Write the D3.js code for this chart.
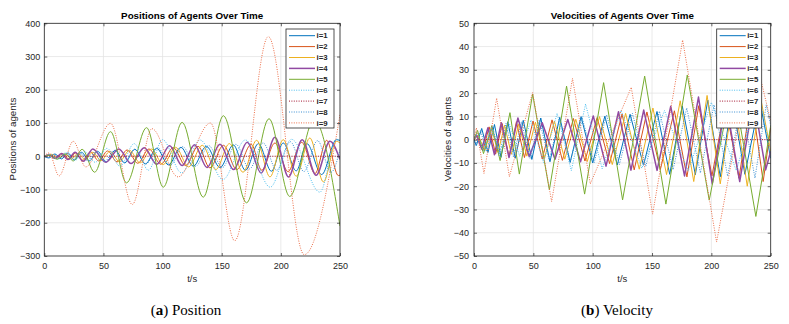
<!DOCTYPE html>
<html>
<head>
<meta charset="utf-8">
<script src="https://cdn.jsdelivr.net/npm/d3@7"></script>
<style>
  body { margin: 0; background: #fff; }
  svg { display: block; }
</style>
</head>
<body>
<script>
// ---- values ----
var seriesNames = ["i=1", "i=2", "i=3", "i=4", "i=5", "i=6", "i=7", "i=8", "i=9"];
var tTicks = [0, 50, 100, 150, 200, 250];
var posTicks = [-300, -200, -100, 0, 100, 200, 300, 400];
var velTicks = [-50, -40, -30, -20, -10, 0, 10, 20, 30, 40, 50];

// positions: [t, value] at the turning points of each curve
var pos1 = [[0,0],[4,-5],[9,7],[14.5,-8],[20,10],[25.5,-11],[31.5,12],[38,-14],[45,15],[52.5,-17],[60,18],[68,-20],[76.5,21],[85.5,-23],[95,24],[105,-26],[115.5,27],[126,-30],[137,30],[148.6,-34],[159.8,34],[170,-42],[181,38],[192,-45],[202,40],[213,-44],[222,38],[234.5,-55],[247,50],[250,47]];
var pos2 = [[0,0],[5,5],[10,-7],[15.5,8],[21,-9],[26.5,10],[32.5,-12],[39,13],[46,-14],[53.5,16],[61.5,-17],[70,19],[79,-21],[88.5,22],[98.5,-24],[109,26],[119.5,-28],[130,30],[140,-35],[151.4,33],[162.7,-40],[175,36],[183.8,-42],[195,40],[206,-46],[217.6,42],[228.9,-52],[238.7,48],[248.6,-58],[250,-57]];
var pos3 = [[0,0],[6.5,6],[12,-6],[17.5,7],[23,-8],[28.5,9],[34.5,-10],[41,12],[48,-13],[55.5,15],[63.5,-16],[72,18],[81,-20],[90.5,22],[100.5,-25],[111,27],[122,-32],[133.5,33],[145,-40],[156.5,38],[168,-48],[179.5,48],[190.8,-62],[202,50],[213,-60],[224.5,55],[236,-77],[247,45],[250,40]];
var pos4 = [[0,0],[4,4],[9,-6],[14.5,8],[20,-10],[26,12],[33,-15],[41,22],[52,-18],[63,22],[73.5,-22],[84.5,26],[95,-24],[106,32],[116.5,-28],[127,35],[137.5,-34],[148.5,36],[160,-40],[171.5,42],[183.3,-50],[195,57],[206.5,-62],[218,50],[229.8,-57],[241.5,45],[250,-10]];
var pos5 = [[0,0],[4,3],[11,-9],[18,7],[24.5,-14],[32,21],[42.5,-48],[56,74],[69.5,-80],[86.5,86],[100.6,-93],[116.5,102],[134.4,-123],[151.4,122],[171,-140],[190,113],[207.5,-121],[228,110],[250,-210]];
var pos6 = [[0,0],[5,6],[11,-8],[18,10],[26,-12],[34,14],[43,-18],[53,24],[64,-30],[76,38],[88,-42],[100,50],[116,-50],[131.7,49],[151,-70],[170,49],[191,-93],[209,51],[233,-108],[247,51],[250,48]];
var pos7 = [[0,0],[250,0]];
var pos8 = [[0,0],[3,-4],[8,6],[13,-7],[18.5,9],[24,-10],[30,11],[36.5,-13],[43.5,14],[51,-16],[59,18],[67.5,-19],[76.5,21],[86,-23],[96,25],[106.5,-27],[117,29],[128,-30],[139,32],[150.5,-34],[162,36],[173.5,-38],[185,40],[196.5,-42],[208,44],[219.5,-46],[231,47],[242.5,-48],[250,20]];
var pos9 = [[0,0],[4,10],[12.5,-59],[24.5,45],[35,-32],[56,99],[74.4,-145],[91,83],[113,-62],[140.5,100],[161,-254],[189.4,360],[219.8,-296],[250,125]];

// velocities: [t, value] at the corners of each zigzag
var vel1 = [[0,0],[2,-2.5],[6.5,4.8],[11.75,-5.5],[17.25,6.5],[22.75,-7.6],[28.5,7.7],[34.75,-8],[41.5,8.3],[48.75,-8.5],[56.25,9.3],[64,-9.5],[72.25,9.6],[81,-9.8],[90.25,9.9],[100,-10],[110.25,10.1],[120.75,-10.9],[131.5,10.9],[142.8,-11],[154.2,12.1],[164.9,-14.9],[175.5,14.5],[186.5,-15.1],[197,17],[207.5,-16],[217.5,17],[228.25,-14.9],[240.75,16.8],[250,-8]];
var vel2 = [[0,0],[2.5,2],[7.5,-4.8],[12.75,5.5],[18.25,-6.2],[23.75,6.9],[29.5,-7.3],[35.75,7.7],[42.5,-7.7],[49.75,8],[57.5,-8.3],[65.75,8.5],[74.5,-8.9],[83.75,9.1],[93.5,-9.2],[103.75,9.5],[114.25,-10.3],[124.75,11],[135,-13],[145.7,11.9],[157,-12.9],[168.85,12.4],[179.4,-16],[189.4,14.6],[200.5,-15.6],[211.8,15.2],[223.25,-16.6],[233.8,18],[243.65,-18],[250,5]];
var vel3 = [[0,0],[3.25,1.8],[9.25,-4.4],[14.75,4.7],[20.25,-5.5],[25.75,6.2],[31.5,-6.3],[37.75,6.8],[44.5,-7.1],[51.75,7.5],[59.5,-7.8],[67.75,8],[76.5,-8.4],[85.75,8.8],[95.5,-9.4],[105.75,9.9],[116.5,-10.7],[127.75,11.3],[139.25,-12.7],[150.75,13.6],[162.25,-15],[173.75,16.7],[185.15,-18],[196.4,19],[207.5,-19],[218.75,19],[230.25,-20],[241.5,18],[250,-5]];
var vel4 = [[0,0],[2,2],[6.5,-4],[11.75,5.1],[17.25,-6.5],[23,7.3],[29.5,-7.7],[37,9.3],[46.5,-7.3],[57.5,7.3],[68.25,-8.4],[79,8.7],[89.75,-9.5],[100.5,10.2],[111.25,-11.4],[121.75,12],[132.25,-13.1],[143,12.7],[154.25,-13.2],[165.75,14.3],[177.4,-15.6],[189.15,18.3],[200.75,-19],[212.25,16],[223.9,-18],[235.65,17.4],[245.75,-13],[250,-5]];
var vel5 = [[0,0],[3,4],[8,-6],[15,6],[22,-9],[30.3,11.6],[38.2,-14.8],[49.4,19.6],[63.5,-21.6],[78,23],[93.2,-23.4],[109.2,24.5],[125.2,-25.9],[143.8,27.3],[161.7,-27.7],[179.7,27.8],[198.2,-26],[218,25],[237.5,-33],[250,6]];
var vel6 = [[0,0],[2.5,2.4],[8,-4.7],[14.5,5.1],[22,-5.5],[30,6.5],[38.5,-7.1],[48,8.4],[58.5,-9.8],[70,11.3],[82,-13.3],[94,15.3],[108,-12.5],[123.9,12.6],[141.4,-12.3],[160.5,12.5],[180.5,-13.5],[200,16],[221,-13.3],[240,20],[250,-6]];
var vel7 = [[0,0],[250,0]];
var vel8 = [[0,0],[1.5,-2.7],[5.5,4],[10.5,-5.2],[15.75,5.8],[21.25,-6.9],[27,7],[33.25,-7.4],[40,7.7],[47.25,-8],[55,8.5],[63.25,-8.7],[72,8.9],[81.25,-9.3],[91,9.6],[101.25,-9.9],[111.75,10.7],[122.5,-10.7],[133.5,11.3],[144.75,-11.5],[156.25,12.2],[167.75,-12.9],[179.25,13.6],[190.75,-14.3],[202.25,15],[213.75,-15.7],[225.25,16.2],[236.75,-16.5],[246.25,15],[250,6]];
var vel9 = [[0,0],[2,5],[8.4,-14.5],[19.1,17.8],[29.8,-15.9],[49.4,20.2],[65.4,-26.6],[83,26.3],[98,-19],[132.5,22.5],[150.5,-32],[175.8,42.8],[204.4,-44],[235,40],[250,8]];

var posSeries = [pos1, pos2, pos3, pos4, pos5, pos6, pos7, pos8, pos9];
var velSeries = [vel1, vel2, vel3, vel4, vel5, vel6, vel7, vel8, vel9];

// line styles (MATLAB default order, 6-9 dotted)
var lineStyles = [
  { color: "#0072BD", width: 1, dash: null },
  { color: "#D95319", width: 1, dash: null },
  { color: "#EDB120", width: 1, dash: null },
  { color: "#9149A2", width: 1.5, dash: null },
  { color: "#77AC30", width: 1, dash: null },
  { color: "#4DBEEE", width: 1, dash: "1,1.4" },
  { color: "#A2142F", width: 1, dash: "1,1.4" },
  { color: "#3C8FD2", width: 1, dash: "1,1.4" },
  { color: "#EC6E48", width: 1, dash: "1,1.4" }
];

var width = 789, height = 324;
var fontSans = "'Liberation Sans', Arial, Helvetica, sans-serif";
var ink = "#262626";

var svg = d3.select("body")
  .append("svg")
  .attr("width", width)
  .attr("height", height);

function drawPanel(p) {
  var top = 23.3, bottom = 256;

  var xScale = d3.scaleLinear().domain([0, 250]).range([p.left, p.right]);
  var yScale = d3.scaleLinear().domain([p.yTicks[0], p.yTicks[p.yTicks.length - 1]]).range([bottom, top]);

  var g = svg.append("g");

  // grid
  g.selectAll(".gx").data(tTicks).enter().append("line")
    .attr("x1", function (d) { return xScale(d); })
    .attr("x2", function (d) { return xScale(d); })
    .attr("y1", top).attr("y2", bottom)
    .attr("stroke", "#e1e1e1").attr("stroke-width", 0.7);
  g.selectAll(".gy").data(p.yTicks).enter().append("line")
    .attr("y1", function (d) { return yScale(d); })
    .attr("y2", function (d) { return yScale(d); })
    .attr("x1", p.left).attr("x2", p.right)
    .attr("stroke", "#e1e1e1").attr("stroke-width", 0.7);

  // clip to the axes box
  svg.append("clipPath").attr("id", p.id + "clip")
    .append("rect")
    .attr("x", p.left).attr("y", top)
    .attr("width", p.right - p.left).attr("height", bottom - top);

  var line = d3.line()
    .x(function (d) { return xScale(d[0]); })
    .y(function (d) { return yScale(d[1]); })
    .curve(p.curve);

  g.append("g")
    .attr("clip-path", "url(#" + p.id + "clip)")
    .selectAll("path")
    .data(p.series)
    .enter()
    .append("path")
    .attr("d", function (d) { return line(d); })
    .attr("fill", "none")
    .attr("stroke", function (d, i) { return lineStyles[i].color; })
    .attr("stroke-width", function (d, i) { return lineStyles[i].width; })
    .attr("stroke-dasharray", function (d, i) { return lineStyles[i].dash; })
    .attr("stroke-linejoin", "round");

  // axes, ticks pointing inward on all four sides
  var xAxis = d3.axisBottom(xScale).tickValues(tTicks).tickSize(-3).tickPadding(6.5);
  var yAxis = d3.axisLeft(yScale).tickValues(p.yTicks).tickSize(-3).tickPadding(p.yPad);

  var gx = g.append("g").attr("transform", "translate(0," + bottom + ")").call(xAxis);
  var gy = g.append("g").attr("transform", "translate(" + p.left + ",0)").call(yAxis);
  g.append("g").attr("transform", "translate(0," + top + ")")
    .call(d3.axisTop(xScale).tickValues(tTicks).tickSize(-3).tickFormat(""));
  g.append("g").attr("transform", "translate(" + p.right + ",0)")
    .call(d3.axisRight(yScale).tickValues(p.yTicks).tickSize(-3).tickFormat(""));

  g.selectAll(".domain").remove();
  g.selectAll(".tick line").attr("stroke", ink).attr("stroke-width", 0.7);
  [gx, gy].forEach(function (a) {
    a.attr("font-family", fontSans).attr("font-size", 9);
    a.selectAll("text").attr("fill", ink);
  });

  // axes box
  g.append("rect")
    .attr("x", p.left).attr("y", top)
    .attr("width", p.right - p.left).attr("height", bottom - top)
    .attr("fill", "none").attr("stroke", ink).attr("stroke-width", 0.8);

  var mid = (p.left + p.right) / 2;

  // title
  g.append("text")
    .attr("x", mid).attr("y", 19)
    .attr("text-anchor", "middle")
    .attr("font-family", fontSans).attr("font-size", 9.8).attr("font-weight", "bold")
    .attr("fill", "#000")
    .text(p.title);

  // axis labels
  g.append("text")
    .attr("x", mid).attr("y", 282)
    .attr("text-anchor", "middle")
    .attr("font-family", fontSans).attr("font-size", 9.5)
    .attr("fill", ink)
    .text("t/s");
  g.append("text")
    .attr("transform", "translate(" + p.yLabelX + ",139) rotate(-90)")
    .attr("text-anchor", "middle")
    .attr("dy", "0.35em")
    .attr("font-family", fontSans).attr("font-size", 9.8)
    .attr("fill", ink)
    .text(p.yLabel);

  // legend
  var lg = g.append("g");
  lg.append("rect")
    .attr("x", p.legX).attr("y", 29)
    .attr("width", p.legW).attr("height", 99)
    .attr("fill", "#fff").attr("stroke", ink).attr("stroke-width", 0.8);
  var items = lg.selectAll(".item").data(seriesNames).enter().append("g")
    .attr("transform", function (d, i) { return "translate(0," + (35.7 + i * 10.9) + ")"; });
  items.append("line")
    .attr("x1", p.legX + 3).attr("x2", p.legX + 29)
    .attr("stroke", function (d, i) { return lineStyles[i].color; })
    .attr("stroke-width", function (d, i) { return lineStyles[i].width; })
    .attr("stroke-dasharray", function (d, i) { return lineStyles[i].dash; });
  items.append("text")
    .attr("x", p.legX + 30.5).attr("dy", "0.35em")
    .attr("font-family", fontSans).attr("font-size", 7.8).attr("font-weight", "bold")
    .attr("fill", ink)
    .text(function (d) { return d; });

  // caption below the panel
  var cap = svg.append("text")
    .attr("x", p.capX).attr("y", 315)
    .attr("text-anchor", "middle")
    .attr("font-family", "'Liberation Serif', 'Times New Roman', serif")
    .attr("font-size", 15)
    .attr("fill", "#000");
  cap.append("tspan").text("(");
  cap.append("tspan").attr("font-weight", "bold").text(p.capLetter);
  cap.append("tspan").text(") " + p.capText);
}

drawPanel({
  id: "pos", left: 44.3, right: 340, yTicks: posTicks, yPad: 4,
  series: posSeries, curve: d3.curveMonotoneX,
  title: "Positions of Agents Over Time", yLabel: "Positions of agents", yLabelX: 13,
  legX: 286, legW: 48, capX: 186, capLetter: "a", capText: "Position"
});

drawPanel({
  id: "vel", left: 474, right: 770.7, yTicks: velTicks, yPad: 5,
  series: velSeries, curve: d3.curveLinear,
  title: "Velocities of Agents Over Time", yLabel: "Velocities of agents", yLabelX: 448,
  legX: 716.7, legW: 45, capX: 617, capLetter: "b", capText: "Velocity"
});
</script>
</body>
</html>
